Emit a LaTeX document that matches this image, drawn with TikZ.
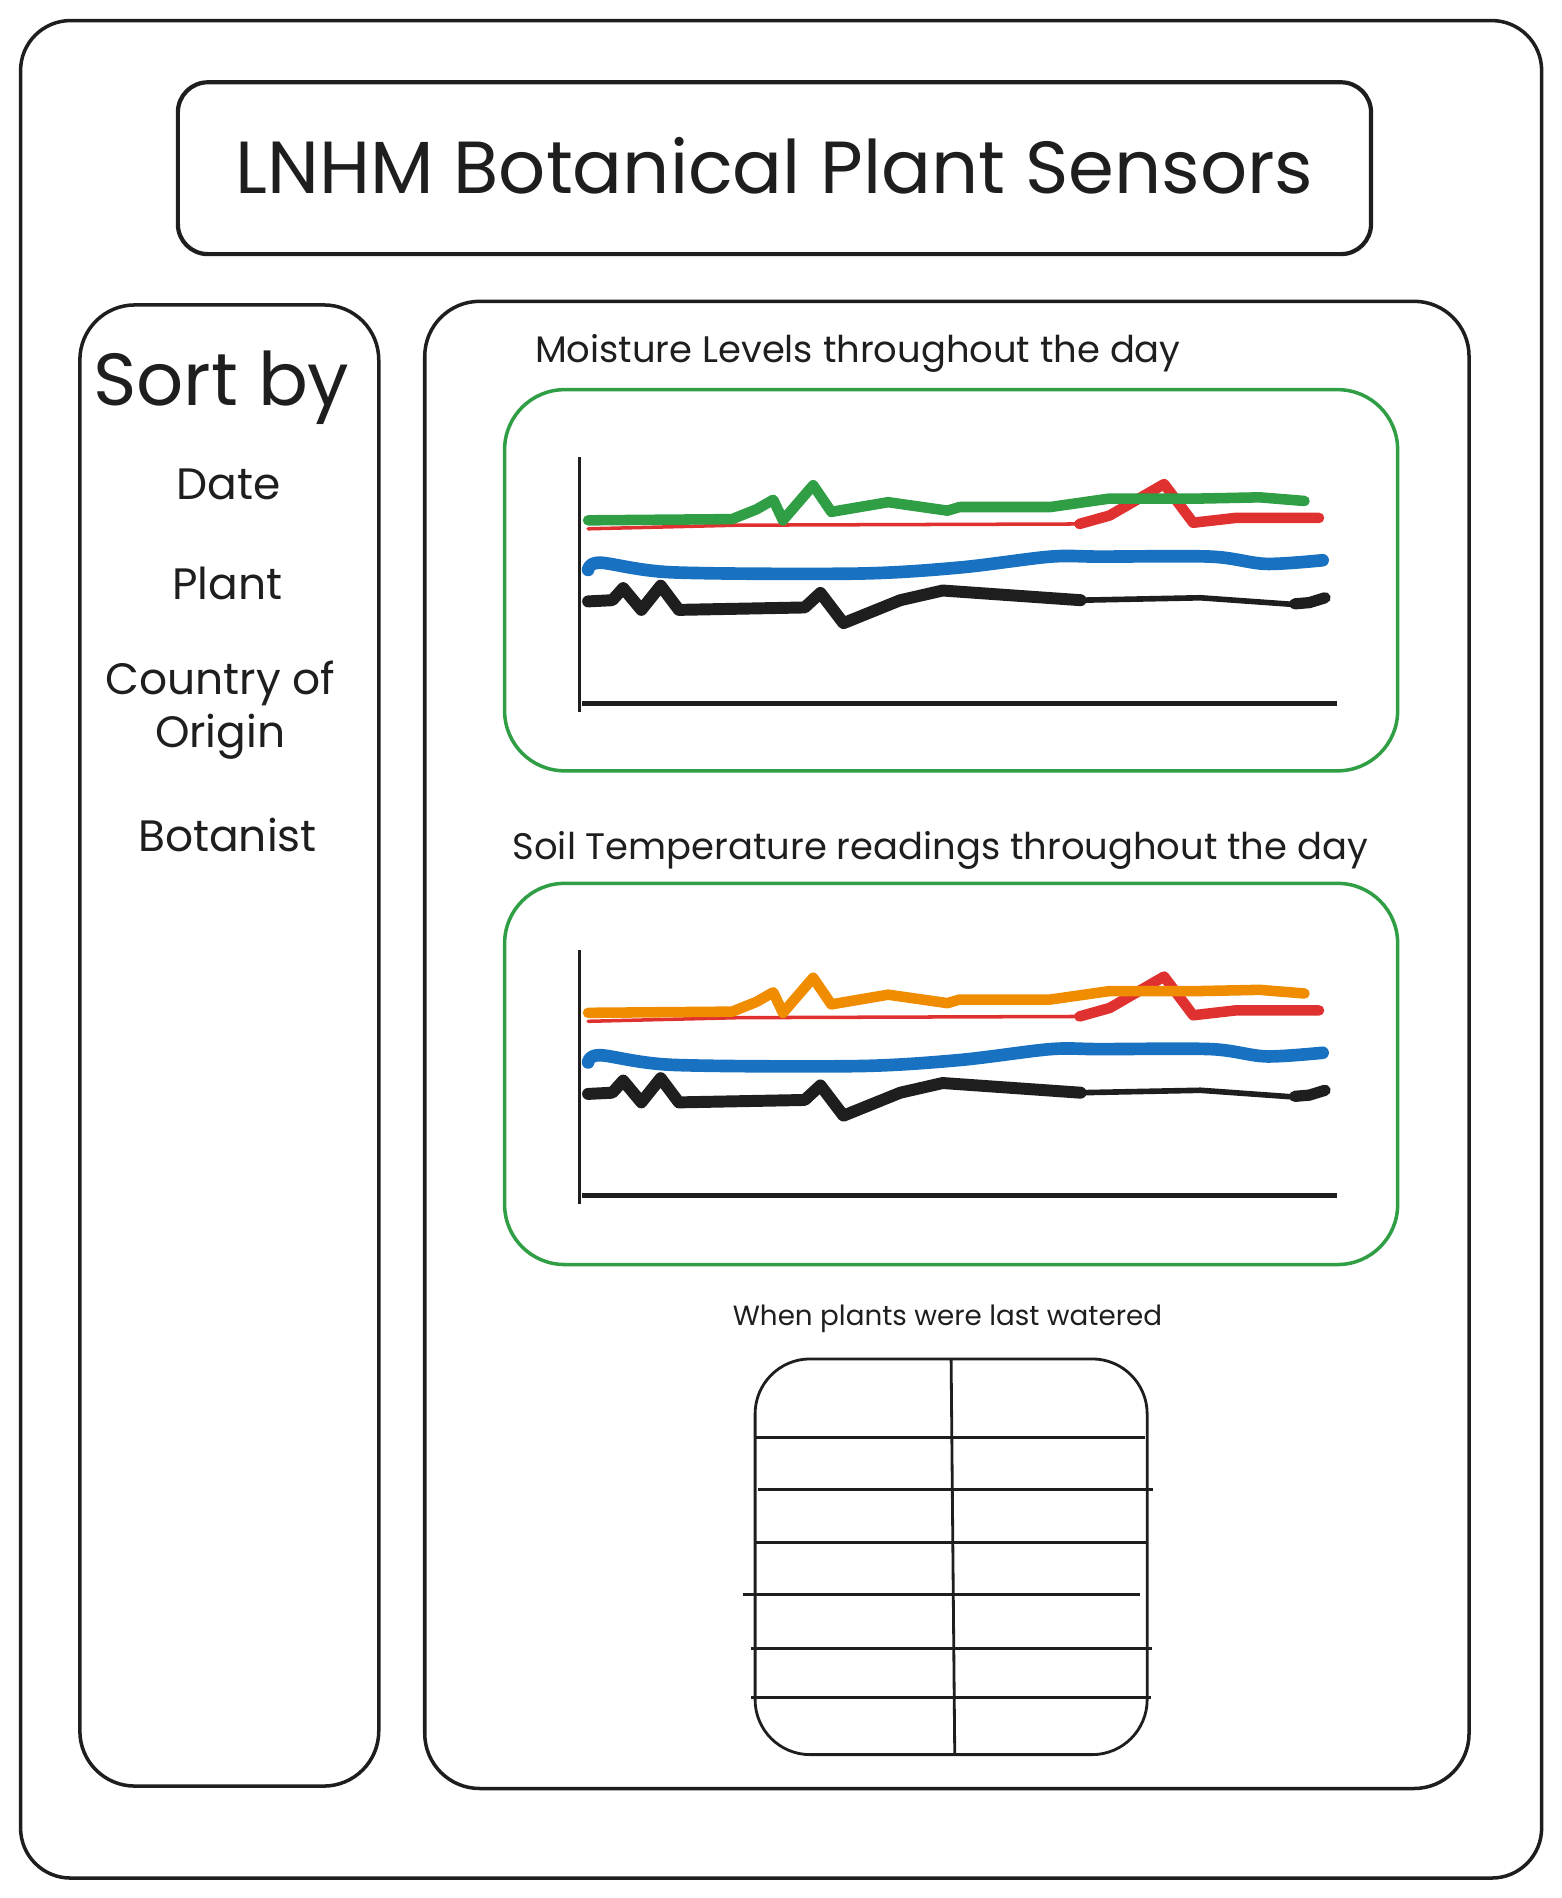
\documentclass[tikz,border=0pt]{standalone}
\usepackage{fontspec}
\setmainfont{Poppins}

\definecolor{sketchblack}{HTML}{1E1E1E}
\definecolor{chartgreen}{HTML}{2F9E44}
\definecolor{chartred}{HTML}{E03131}
\definecolor{chartblue}{HTML}{1971C2}
\definecolor{chartorange}{HTML}{F08C00}

\tikzset{
  panel/.style={draw=sketchblack, line width=1pt},
  chartbox/.style={draw=chartgreen, line width=1pt, rounded corners=0.6cm},
  trace/.style={line cap=round, line join=round},
  label/.style={text=sketchblack, inner sep=0pt},
  gridline/.style={draw=sketchblack, line width=0.8pt},
}

% one chart: #1 = shift down, #2 = colour of the top trace
\newcommand{\sensorchart}[2]{%
  \begin{scope}[shift={(0,#1)}]
    \draw[sketchblack, line width=0.8pt] (479,378) -- (479,588);
    \draw[sketchblack, line width=1.4pt] (481,581) -- (1105,581);
    % red
    \draw[trace, chartred, line width=1pt] (486,437) -- (610,434) -- (892,433);
    \draw[trace, chartred, line width=3pt] (892,433) -- (917,426) -- (962,400) -- (986,432) -- (1021,428) -- (1090,428);
    % top trace
    \draw[trace, #2, line width=3pt] (486,430) -- (605,429) -- (625,421) -- (639,413) -- (647,430) -- (672,401) -- (687,423) -- (734,415) -- (783,422) -- (793,419) -- (868,419) -- (917,412) -- (992,412) -- (1041,411) -- (1078,414);
    % blue
    \draw[trace, chartblue, line width=3.6pt] plot[smooth] coordinates {(486,471) (496,465) (556,473) (709,474) (793,469) (868,460) (910,460) (1001,460) (1046,466) (1093,463)};
    % black
    \draw[trace, sketchblack, line width=3.4pt] (486,497) -- (506,496) -- (515,486) -- (530,504) -- (546,484) -- (561,504) -- (665,502) -- (678,490) -- (697,515) -- (744,496) -- (779,488) -- (893,496);
    \draw[trace, sketchblack, line width=1.6pt] (893,496) -- (992,494) -- (1076,500);
    \draw[trace, sketchblack, line width=3.2pt] (1070,499) -- (1082,498) -- (1095,494);
  \end{scope}}

\begin{document}
\begin{tikzpicture}[x=0.012101cm, y=-0.012101cm]
  \useasboundingbox (0,0) rectangle (1290,1568.5);

  % frames
  \draw[panel, rounded corners=0.5cm] (17,17) rectangle (1274,1552);
  \draw[panel, line width=1.2pt, rounded corners=0.3cm] (147,68) rectangle (1133,210);
  \draw[panel, rounded corners=0.55cm] (66,252) rectangle (313,1476);
  \draw[panel, rounded corners=0.55cm] (351,249) rectangle (1214,1478);

  % heading
  \node[label, font=\fontsize{21}{26}\selectfont] (title) at (640,137) {LNHM Botanical Plant Sensors};

  % sort menu
  \node[label, font=\fontsize{21}{25}\selectfont] (sortby) at (183,320) {Sort by};
  \node[label, font=\fontsize{12.5}{15}\selectfont] (date) at (189,400) {Date};
  \node[label, font=\fontsize{12.5}{15}\selectfont] (plant) at (188,482) {Plant};
  \node[label, font=\fontsize{12.5}{15}\selectfont, align=center] (country) at (182,587) {Country of\\Origin};
  \node[label, font=\fontsize{12.5}{15}\selectfont] (botanist) at (188,690) {Botanist};

  % charts
  \node[label, font=\fontsize{10.5}{13}\selectfont] (moisturetitle) at (709,292) {Moisture Levels throughout the day};
  \draw[chartbox] (417,322) rectangle (1155,637);
  \sensorchart{0}{chartgreen}

  \node[label, font=\fontsize{10.5}{13}\selectfont] (soiltitle) at (777,703) {Soil Temperature readings throughout the day};
  \draw[chartbox] (417,730) rectangle (1155,1045);
  \sensorchart{407}{chartorange}

  % watering table
  \node[label, font=\fontsize{7.9}{10}\selectfont] (watertitle) at (783,1090) {When plants were last watered};
  \draw[gridline, rounded corners=0.55cm] (624,1123) rectangle (948,1450);
  \draw[gridline] (786,1124) -- (789,1450);
  \draw[gridline] (624,1188) -- (946,1188);
  \draw[gridline] (626,1231) -- (953,1231);
  \draw[gridline] (624,1275) -- (948,1275);
  \draw[gridline] (614,1318) -- (942,1318);
  \draw[gridline] (621,1362) -- (952,1362);
  \draw[gridline] (621,1403) -- (951,1403);
\end{tikzpicture}
\end{document}
